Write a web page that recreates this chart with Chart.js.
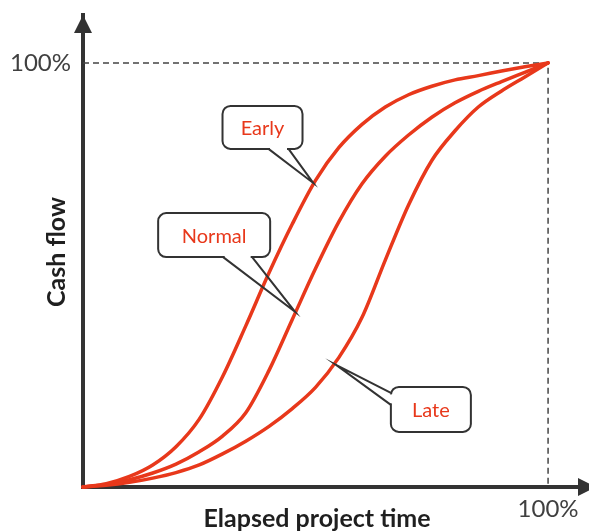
<!DOCTYPE html>
<html>
<head>
<meta charset="utf-8">
<script src="https://cdn.jsdelivr.net/npm/chart.js@4.4.1/dist/chart.umd.min.js"></script>
<style>
  html, body { margin: 0; padding: 0; background: #ffffff; }
  #wrap { width: 589px; height: 531px; }
</style>
</head>
<body>
<div id="wrap"><canvas id="c" width="589" height="531"></canvas></div>
<script>
// S-curves: cumulative cash flow (%) against elapsed project time (%)
const timeSteps  = [0, 5, 10, 15, 20, 25, 30, 35, 40, 45, 50, 55, 60, 65, 70, 75, 80, 85, 90, 95, 100];
const earlyCash  = [0, 0.8, 2.5, 5.2, 9.5, 16.0, 26.0, 38.0, 50.5, 62.0, 72.3, 80.0, 85.5, 89.6, 92.5, 94.5, 96.0, 97.0, 98.1, 99.1, 100];
const normalCash = [0, 0.6, 1.7, 3.3, 5.4, 8.3, 12.0, 17.5, 27.5, 39.5, 51.5, 62.5, 71.5, 78.0, 83.0, 87.2, 90.6, 93.3, 95.6, 97.8, 100];
const lateCash   = [0, 0.4, 1.1, 2.1, 3.4, 5.2, 7.8, 10.8, 14.3, 18.5, 23.5, 30.5, 40.0, 53.5, 66.5, 77.0, 84.0, 89.6, 93.4, 96.7, 100];

// the only tick shown on each axis
const tickValues = [100];
const tickSuffix = '%';

const xTitle = 'Elapsed project time';
const yTitle = 'Cash flow';

const toPoints = (xs, ys) => xs.map((x, i) => ({ x: x, y: ys[i] }));

const RED = '#E8381B';
const INK = '#333333';

// speech-bubble labels, anchored in axis units; tail points are offsets from the box centre
const callouts = [
  { text: 'Early',  at: [38.6, 84.8], w: 80,  h: 43, tip: [49.5, 71.7], tail: [[6, 21.5], [26, 21.5]] },
  { text: 'Normal', at: [28.2, 59.4], w: 112, h: 44, tip: [45.6, 41.3], tail: [[9, 22], [38, 22]] },
  { text: 'Late',   at: [74.8, 18.3], w: 80,  h: 45, tip: [54.4, 28.8], tail: [[-40, -16.5], [-40, -4.5]] }
];

const bubblePlugin = {
  id: 'bubbles',
  afterDatasetsDraw(chart) {
    const ctx = chart.ctx;
    const xs = chart.scales.x, ys = chart.scales.y;
    callouts.forEach(c => {
      const cx = xs.getPixelForValue(c.at[0]);
      const cy = ys.getPixelForValue(c.at[1]);
      const tx = xs.getPixelForValue(c.tip[0]);
      const ty = ys.getPixelForValue(c.tip[1]);
      ctx.save();
      ctx.beginPath();
      ctx.roundRect(cx - c.w / 2, cy - c.h / 2, c.w, c.h, 8);
      ctx.fillStyle = '#ffffff';
      ctx.fill();
      ctx.lineWidth = 2;
      ctx.strokeStyle = INK;
      ctx.stroke();

      const b1 = [cx + c.tail[0][0], cy + c.tail[0][1]];
      const b2 = [cx + c.tail[1][0], cy + c.tail[1][1]];
      // open the outline where the tail joins the box
      const len = Math.hypot(b2[0] - b1[0], b2[1] - b1[1]);
      const ux = (b2[0] - b1[0]) / len, uy = (b2[1] - b1[1]) / len;
      ctx.beginPath();
      ctx.moveTo(b1[0] + ux * 1.5, b1[1] + uy * 1.5);
      ctx.lineTo(b2[0] - ux * 1.5, b2[1] - uy * 1.5);
      ctx.strokeStyle = '#ffffff';
      ctx.lineWidth = 4;
      ctx.stroke();

      ctx.beginPath();
      ctx.moveTo(b1[0], b1[1]);
      ctx.lineTo(tx, ty);
      ctx.lineTo(b2[0], b2[1]);
      ctx.lineJoin = 'miter';
      ctx.miterLimit = 20;
      ctx.strokeStyle = INK;
      ctx.lineWidth = 2;
      ctx.stroke();

      ctx.fillStyle = RED;
      ctx.font = '20px Lato';
      ctx.textAlign = 'center';
      ctx.textBaseline = 'middle';
      ctx.fillText(c.text, cx, cy + 1);
      ctx.restore();
    });
  }
};

const axesPlugin = {
  id: 'axisDecor',
  afterDraw(chart) {
    const ctx = chart.ctx;
    const a = chart.chartArea;
    ctx.save();
    ctx.fillStyle = INK;
    // arrow heads on both axes
    ctx.beginPath();
    ctx.moveTo(a.left, a.top);
    ctx.lineTo(a.left - 9, a.top + 18);
    ctx.lineTo(a.left + 9, a.top + 18);
    ctx.closePath();
    ctx.fill();
    ctx.beginPath();
    ctx.moveTo(a.right + 7, a.bottom);
    ctx.lineTo(a.right - 11, a.bottom - 9);
    ctx.lineTo(a.right - 11, a.bottom + 9);
    ctx.closePath();
    ctx.fill();

    // axis titles
    ctx.fillStyle = '#1f1f1f';
    ctx.font = 'bold 25px Lato';
    ctx.textAlign = 'center';
    ctx.textBaseline = 'middle';
    ctx.fillText(xTitle, 317, 519);
    ctx.translate(57, 252);
    ctx.rotate(-Math.PI / 2);
    ctx.fillText(yTitle, 0, 0);
    ctx.restore();
  }
};

const onlyTicks = scale => { scale.ticks = tickValues.map(v => ({ value: v })); };

const curve = (label, values) => ({
  label: label,
  data: toPoints(timeSteps, values),
  borderColor: RED, borderWidth: 3.5, pointRadius: 0,
  cubicInterpolationMode: 'monotone', borderCapStyle: 'round', clip: false, order: 1
});

new Chart(document.getElementById('c'), {
  type: 'line',
  data: {
    datasets: [
      curve('Early', earlyCash),
      curve('Normal', normalCash),
      curve('Late', lateCash),
      {
        label: 'Full',
        data: [{ x: 0, y: 100 }, { x: 100, y: 100 }, { x: 100, y: 0 }],
        borderColor: '#444444', borderWidth: 1.5, borderDash: [6, 4],
        pointRadius: 0, tension: 0, clip: false, order: 5
      }
    ]
  },
  options: {
    responsive: false,
    animation: false,
    events: [],
    layout: { padding: { top: 15, right: 0, bottom: 0, left: 0 } },
    plugins: { legend: { display: false }, tooltip: { enabled: false } },
    scales: {
      x: {
        type: 'linear', min: 0, max: 108.8,
        afterFit: s => { s.height = 44; s.paddingLeft = 0; s.paddingRight = 0; },
        afterBuildTicks: onlyTicks,
        grid: { display: false, drawTicks: false },
        border: { display: true, color: INK, width: 4 },
        ticks: {
          padding: 8, color: '#404040', font: { family: 'Lato', size: 24 },
          callback: v => v + tickSuffix
        }
      },
      y: {
        type: 'linear', min: 0, max: 111.3,
        afterFit: s => { s.width = 83; s.paddingTop = 0; s.paddingBottom = 0; },
        afterBuildTicks: onlyTicks,
        grid: { display: false, drawTicks: false },
        border: { display: true, color: INK, width: 4 },
        ticks: {
          padding: 12, color: '#404040', font: { family: 'Lato', size: 24 },
          callback: v => v + tickSuffix
        }
      }
    }
  },
  plugins: [bubblePlugin, axesPlugin]
});
</script>
</body>
</html>
